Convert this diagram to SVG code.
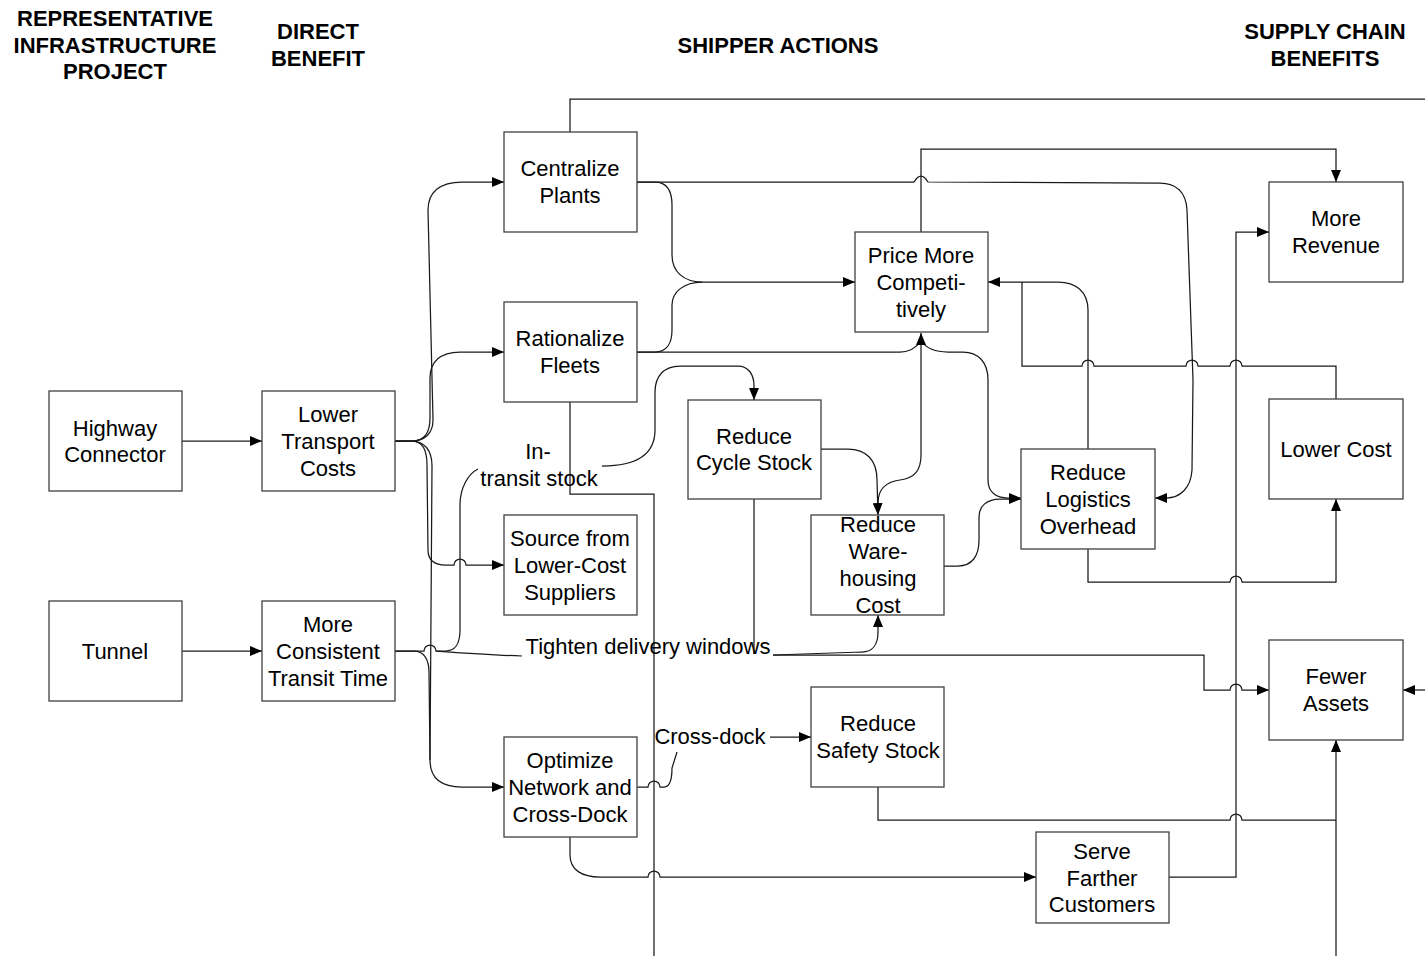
<svg xmlns="http://www.w3.org/2000/svg" width="1425" height="956" viewBox="0 0 1425 956">
<style>
.box{fill:#fff;stroke:#404040;stroke-width:1.3}
.t{font-family:"Liberation Sans",Arial,sans-serif;font-size:22px;fill:#000;text-anchor:middle}
.h{font-family:"Liberation Sans",Arial,sans-serif;font-size:22px;font-weight:bold;fill:#000;text-anchor:middle}
.c{fill:none;stroke:#1a1a1a;stroke-width:1.25}
.a{marker-end:url(#ah)}
</style>
<defs>
<marker id="ah" viewBox="0 0 12 10" refX="12" refY="5" markerWidth="12" markerHeight="10" markerUnits="userSpaceOnUse" orient="auto">
<path d="M0,0 L12,5 L0,10 z" fill="#000"/>
</marker>
</defs>
<rect width="1425" height="956" fill="#fff"/>

<g id="headers">
<text class="h" x="115" y="26">REPRESENTATIVE</text>
<text class="h" x="115" y="53">INFRASTRUCTURE</text>
<text class="h" x="115" y="79">PROJECT</text>
<text class="h" x="318" y="39">DIRECT</text>
<text class="h" x="318" y="66">BENEFIT</text>
<text class="h" x="778" y="53">SHIPPER ACTIONS</text>
<text class="h" x="1325" y="39">SUPPLY CHAIN</text>
<text class="h" x="1325" y="66">BENEFITS</text>
</g>

<g id="connectors">
<path class="c a" d="M182,441 H262"/>
<path class="c a" d="M182,651 H262"/>
<path class="c a" d="M395,441 H412 C424,441 433,434 433,420 L428,210 C428,192 440,182 462,182 L504,182"/>
<path class="c a" d="M395,441 H412 C424,441 430,434 430,418 L430,378 C430,362 440,352 460,352 L504,352"/>
<path class="c a" d="M395,441 H412 C422,441 427,450 427,465 L428,550 C428,560 434,565 446,565 L454,565 A6,6 0 0 1 466,565 L504,565"/>
<path class="c a" d="M395,441 H412 C424,441 432,450 432,466 L430,760 C430,778 440,787 462,787 L504,787"/>
<path class="c" d="M395,651 H414 C423,651 429,658 429,672 L430,760"/>
<path class="c" d="M395,651 H424 A6,6 0 0 1 436,651 H445 C455,651 460,645 460,630 L460,505 C460,488 468,474 478,469"/>
<path class="c a" d="M602,466 C630,466 655,458 655,430 L655,392 C655,376 664,366 680,366 L738,366 C748,366 754,374 754,386 L754,400"/>
<path class="c" d="M436,651 C450,652 490,655 522,656"/>
<path class="c a" d="M773,655 L862,652 C872,652 878,645 878,632 L878,615"/>
<path class="c a" d="M773,655 H1204 V690 H1230 A6,6 0 0 1 1242,690 H1269"/>
<path class="c" d="M754,499 V654"/>
<path class="c" d="M570,402 V494 H654 V956"/>
<path class="c" d="M570,132 V99 H1425"/>
<path class="c a" d="M1425,690 H1403"/>
<path class="c a" d="M1336,956 V740"/>
<path class="c a" d="M637,182 H655 C666,182 672,190 672,205 L672,255 C672,272 684,282 702,282 L855,282"/>
<path class="c" d="M637,352 H655 C666,352 672,344 672,330 L672,305 C672,292 684,282 702,282"/>
<path class="c a" d="M637,182 H914 Q921,170 928,182 L1160,183 C1176,183 1186,192 1187,210 L1193,380 L1192,470 C1191,488 1180,498 1166,498 L1155,498"/>
<path class="c a" d="M637,352 H900 C910,352 916,348 921,341 C926,348 934,352 948,352 L963,352 C978,352 988,362 988,380 L988,480 C988,492 996,498 1008,498 L1021,498"/>
<path class="c a" d="M878,503 C878,490 885,482 900,480 C915,478 921,470 921,455 L921,333"/>
<path class="c a" d="M821,449 H848 C866,449 877,460 877,480 L878,515"/>
<path class="c a" d="M944,566 H958 C972,566 979,556 979,540 L979,517 C979,506 987,499 1000,499 L1021,499"/>
<path class="c a" d="M1088,449 L1088,310 C1088,292 1076,282 1058,282 L988,282"/>
<path class="c" d="M1022,282 V366 H1082 A6,6 0 0 1 1094,366 H1186 A6,6 0 0 1 1198,366 H1230 A6,6 0 0 1 1242,366 H1336 V399"/>
<path class="c a" d="M1088,549 V582 H1230 A6,6 0 0 1 1242,582 H1336 V499"/>
<path class="c a" d="M1169,877 H1236 V232 H1269"/>
<path class="c a" d="M921,232 V149 H1336 V182"/>
<path class="c" d="M878,787 V820 H1230 A6,6 0 0 1 1242,820 H1336"/>
<path class="c a" d="M570,837 V855 C570,870 582,877 600,877 L648,877 A6,6 0 0 1 660,877 L1036,877"/>
<path class="c" d="M637,787 H648 A6,6 0 0 1 660,787 H664 C670,787 672,780 672,768 L677,752"/>
<path class="c a" d="M770,737 H811"/>
</g>

<g id="labels">
<text class="t" x="538" y="459">In-</text>
<text class="t" x="539" y="486">transit stock</text>
<text class="t" x="648" y="654">Tighten delivery windows</text>
<text class="t" x="710" y="744">Cross-dock</text>
</g>

<g id="highway-connector"><rect class="box" x="49" y="391" width="133" height="100"/><text class="t" x="115" y="436">Highway</text><text class="t" x="115" y="462">Connector</text></g>
<g id="tunnel"><rect class="box" x="49" y="601" width="133" height="100"/><text class="t" x="115" y="659">Tunnel</text></g>
<g id="lower-transport-costs"><rect class="box" x="262" y="391" width="133" height="100"/><text class="t" x="328" y="422">Lower</text><text class="t" x="328" y="449">Transport</text><text class="t" x="328" y="476">Costs</text></g>
<g id="more-consistent-transit-time"><rect class="box" x="262" y="601" width="133" height="100"/><text class="t" x="328" y="632">More</text><text class="t" x="328" y="659">Consistent</text><text class="t" x="328" y="686">Transit Time</text></g>
<g id="centralize-plants"><rect class="box" x="504" y="132" width="133" height="100"/><text class="t" x="570" y="176">Centralize</text><text class="t" x="570" y="203">Plants</text></g>
<g id="rationalize-fleets"><rect class="box" x="504" y="302" width="133" height="100"/><text class="t" x="570" y="346">Rationalize</text><text class="t" x="570" y="373">Fleets</text></g>
<g id="source-lower-cost"><rect class="box" x="504" y="515" width="133" height="100"/><text class="t" x="570" y="546">Source from</text><text class="t" x="570" y="573">Lower-Cost</text><text class="t" x="570" y="600">Suppliers</text></g>
<g id="optimize-network"><rect class="box" x="504" y="737" width="133" height="100"/><text class="t" x="570" y="768">Optimize</text><text class="t" x="570" y="795">Network and</text><text class="t" x="570" y="822">Cross-Dock</text></g>
<g id="price-more-competitively"><rect class="box" x="855" y="232" width="133" height="100"/><text class="t" x="921" y="263">Price More</text><text class="t" x="921" y="290">Competi-</text><text class="t" x="921" y="317">tively</text></g>
<g id="reduce-cycle-stock"><rect class="box" x="688" y="400" width="133" height="99"/><text class="t" x="754" y="444">Reduce</text><text class="t" x="754" y="470">Cycle Stock</text></g>
<g id="reduce-warehousing"><rect class="box" x="811" y="515" width="133" height="100"/><text class="t" x="878" y="532">Reduce</text><text class="t" x="878" y="559">Ware-</text><text class="t" x="878" y="586">housing</text><text class="t" x="878" y="613">Cost</text></g>
<g id="reduce-logistics-overhead"><rect class="box" x="1021" y="449" width="134" height="100"/><text class="t" x="1088" y="480">Reduce</text><text class="t" x="1088" y="507">Logistics</text><text class="t" x="1088" y="534">Overhead</text></g>
<g id="reduce-safety-stock"><rect class="box" x="811" y="687" width="133" height="100"/><text class="t" x="878" y="731">Reduce</text><text class="t" x="878" y="758">Safety Stock</text></g>
<g id="serve-farther-customers"><rect class="box" x="1036" y="832" width="133" height="91"/><text class="t" x="1102" y="859">Serve</text><text class="t" x="1102" y="886">Farther</text><text class="t" x="1102" y="912">Customers</text></g>
<g id="more-revenue"><rect class="box" x="1269" y="182" width="134" height="100"/><text class="t" x="1336" y="226">More</text><text class="t" x="1336" y="253">Revenue</text></g>
<g id="lower-cost"><rect class="box" x="1269" y="399" width="134" height="100"/><text class="t" x="1336" y="457">Lower Cost</text></g>
<g id="fewer-assets"><rect class="box" x="1269" y="640" width="134" height="100"/><text class="t" x="1336" y="684">Fewer</text><text class="t" x="1336" y="711">Assets</text></g>
</svg>
